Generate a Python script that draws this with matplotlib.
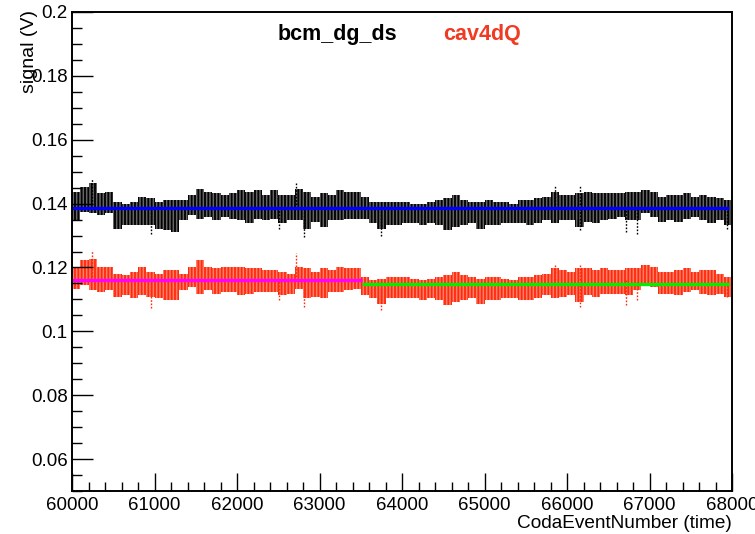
import numpy as np
import matplotlib
matplotlib.use("Agg")
import matplotlib.pyplot as plt
from matplotlib.ticker import MultipleLocator, FixedLocator, FuncFormatter

# Event bins (100 events wide) spanning the run segment
bin_start = 60000
bin_width = 100
n_bins = 80

# bcm_dg_ds: upper / lower extent of the readings in each bin (V)
bcm_hi = [0.1437, 0.1453, 0.1463, 0.1432, 0.1437, 0.1406, 0.1400, 0.1406, 0.1421, 0.1416,
          0.1406, 0.1411, 0.1411, 0.1411, 0.1426, 0.1447, 0.1437, 0.1432, 0.1426, 0.1432,
          0.1442, 0.1437, 0.1442, 0.1426, 0.1442, 0.1426, 0.1426, 0.1447, 0.1437, 0.1421,
          0.1432, 0.1426, 0.1442, 0.1437, 0.1437, 0.1421, 0.1406, 0.1406, 0.1406, 0.1406,
          0.1406, 0.1400, 0.1400, 0.1406, 0.1411, 0.1416, 0.1426, 0.1411, 0.1406, 0.1406,
          0.1411, 0.1406, 0.1406, 0.1400, 0.1411, 0.1411, 0.1416, 0.1421, 0.1437, 0.1426,
          0.1426, 0.1432, 0.1437, 0.1432, 0.1432, 0.1432, 0.1432, 0.1437, 0.1437, 0.1442,
          0.1437, 0.1421, 0.1426, 0.1426, 0.1432, 0.1421, 0.1426, 0.1421, 0.1416, 0.1411]
bcm_lo = [0.1348, 0.1374, 0.1369, 0.1364, 0.1369, 0.1322, 0.1332, 0.1332, 0.1332, 0.1332,
          0.1322, 0.1317, 0.1312, 0.1348, 0.1364, 0.1353, 0.1359, 0.1348, 0.1359, 0.1353,
          0.1348, 0.1338, 0.1353, 0.1348, 0.1353, 0.1338, 0.1348, 0.1348, 0.1322, 0.1343,
          0.1327, 0.1348, 0.1348, 0.1353, 0.1353, 0.1353, 0.1338, 0.1322, 0.1332, 0.1332,
          0.1338, 0.1338, 0.1332, 0.1338, 0.1332, 0.1317, 0.1327, 0.1332, 0.1338, 0.1322,
          0.1332, 0.1332, 0.1338, 0.1338, 0.1338, 0.1332, 0.1338, 0.1348, 0.1338, 0.1348,
          0.1348, 0.1327, 0.1343, 0.1338, 0.1348, 0.1353, 0.1359, 0.1348, 0.1348, 0.1369,
          0.1359, 0.1343, 0.1348, 0.1343, 0.1353, 0.1359, 0.1348, 0.1338, 0.1348, 0.1332]

# cav4dQ: upper / lower extent of the readings in each bin (V)
cav_hi = [0.1197, 0.1223, 0.1228, 0.1202, 0.1202, 0.1181, 0.1176, 0.1186, 0.1202, 0.1186,
          0.1181, 0.1192, 0.1192, 0.1181, 0.1202, 0.1223, 0.1202, 0.1197, 0.1202, 0.1202,
          0.1202, 0.1197, 0.1197, 0.1192, 0.1192, 0.1186, 0.1181, 0.1202, 0.1197, 0.1186,
          0.1197, 0.1192, 0.1202, 0.1197, 0.1197, 0.1171, 0.1160, 0.1165, 0.1171, 0.1171,
          0.1171, 0.1165, 0.1160, 0.1165, 0.1171, 0.1176, 0.1186, 0.1176, 0.1171, 0.1165,
          0.1171, 0.1171, 0.1165, 0.1160, 0.1171, 0.1171, 0.1176, 0.1181, 0.1197, 0.1192,
          0.1186, 0.1197, 0.1197, 0.1192, 0.1197, 0.1192, 0.1192, 0.1197, 0.1197, 0.1207,
          0.1202, 0.1186, 0.1186, 0.1192, 0.1197, 0.1186, 0.1192, 0.1192, 0.1181, 0.1171]
cav_lo = [0.1134, 0.1145, 0.1129, 0.1124, 0.1129, 0.1108, 0.1113, 0.1103, 0.1113, 0.1108,
          0.1103, 0.1098, 0.1098, 0.1129, 0.1139, 0.1118, 0.1129, 0.1118, 0.1124, 0.1124,
          0.1113, 0.1118, 0.1124, 0.1124, 0.1124, 0.1113, 0.1118, 0.1134, 0.1103, 0.1108,
          0.1103, 0.1124, 0.1124, 0.1129, 0.1134, 0.1113, 0.1103, 0.1087, 0.1103, 0.1103,
          0.1103, 0.1103, 0.1098, 0.1103, 0.1098, 0.1082, 0.1092, 0.1098, 0.1103, 0.1087,
          0.1098, 0.1098, 0.1103, 0.1103, 0.1098, 0.1098, 0.1103, 0.1113, 0.1103, 0.1108,
          0.1113, 0.1092, 0.1113, 0.1108, 0.1118, 0.1118, 0.1118, 0.1113, 0.1129, 0.1145,
          0.1139, 0.1118, 0.1118, 0.1113, 0.1124, 0.1129, 0.1118, 0.1113, 0.1118, 0.1108]

# Isolated excursions: event number, value (V)
bcm_spike_evt = [60240, 60960, 62505, 62715, 62812, 63745, 65850, 66157, 66157, 66714, 66850, 67940]
bcm_spike_val = [0.1480, 0.1306, 0.1322, 0.1465, 0.1296, 0.1298, 0.1458, 0.1458, 0.1317, 0.1312, 0.1306, 0.1322]
cav_spike_evt = [60240, 60960, 62505, 62715, 62812, 63745, 65850, 66157, 66157, 66714, 66850, 67940]
cav_spike_val = [0.1252, 0.1072, 0.1098, 0.1244, 0.1077, 0.1066, 0.1212, 0.1212, 0.1077, 0.1082, 0.1098, 0.1108]

# Fitted constants
bcm_fit = 0.1387
cav_fit_a = 0.1161   # first part of the run
cav_fit_b = 0.1148   # second part of the run
cav_split = 63520
evt_min, evt_max = 60000, 68000

BLACK = "#000000"
RED = "#ff2a0a"

plt.rcParams["hatch.linewidth"] = 1.3

fig = plt.figure(figsize=(7.55, 5.34), dpi=100)
ax = fig.add_axes([72 / 755, 43 / 534, 660 / 755, 479 / 534])

centers = bin_start + bin_width * (np.arange(n_bins) + 0.5)

def draw_cloud(hi, lo, sp_x, sp_v, fit_ref, color):
    hi = np.asarray(hi)
    lo = np.asarray(lo)
    # light body of the band
    ax.bar(centers, hi - lo, bottom=lo, width=bin_width, color=color,
           alpha=0.6, linewidth=0)
    # dense vertical texture on top of it
    plt.rcParams["hatch.color"] = color
    ax.bar(centers, hi - lo, bottom=lo, width=bin_width, facecolor="none",
           edgecolor=color, hatch="|||||", linewidth=0)
    for x, v in zip(sp_x, sp_v):
        lo_v, hi_v = (v, fit_ref) if v < fit_ref else (fit_ref, v)
        ax.vlines(x, lo_v, hi_v, color=color, linewidth=1.0, linestyles=(0, (1.2, 1.2)))

draw_cloud(bcm_hi, bcm_lo, bcm_spike_evt, bcm_spike_val, bcm_fit, BLACK)
draw_cloud(cav_hi, cav_lo, cav_spike_evt, cav_spike_val, cav_fit_a, RED)

ax.plot([evt_min, evt_max - 40], [bcm_fit, bcm_fit], color="#0000ff", linewidth=2.4, solid_capstyle="butt")
ax.plot([evt_min, cav_split], [cav_fit_a, cav_fit_a], color="#ff00ff", linewidth=2.4, solid_capstyle="butt")
ax.plot([cav_split, evt_max - 40], [cav_fit_b, cav_fit_b], color="#00ee00", linewidth=2.4, solid_capstyle="butt")

ax.set_xlim(evt_min, evt_max)
ax.set_ylim(0.05, 0.2)

ax.xaxis.set_major_locator(MultipleLocator(1000))
ax.xaxis.set_minor_locator(MultipleLocator(200))
ax.xaxis.set_major_formatter(FuncFormatter(lambda v, p: "%d" % round(v)))
ax.yaxis.set_major_locator(FixedLocator([0.06, 0.08, 0.10, 0.12, 0.14, 0.16, 0.18, 0.20]))
ax.yaxis.set_minor_locator(MultipleLocator(0.005))
ax.yaxis.set_major_formatter(FuncFormatter(lambda v, p: ("%.2f" % v).rstrip("0")))

font = "Liberation Sans"
ax.tick_params(axis="both", which="both", direction="in", top=False, right=False,
               width=1.0, color="black")
ax.tick_params(axis="y", which="major", length=15, labelsize=13.5, pad=3)
ax.tick_params(axis="y", which="minor", length=7.5)
ax.tick_params(axis="x", which="major", length=13, labelsize=13.5, pad=4)
ax.tick_params(axis="x", which="minor", length=6.5)
for lab in ax.get_xticklabels() + ax.get_yticklabels():
    lab.set_fontfamily(font)

for sp in ax.spines.values():
    sp.set_linewidth(1.4)

ax.text(0.312, 0.952, "bcm_dg_ds", transform=ax.transAxes, ha="left", va="center",
        fontsize=15.5, fontweight="bold", family=font, color="black")
ax.text(0.562, 0.952, "cav4dQ", transform=ax.transAxes, ha="left", va="center",
        fontsize=15.5, fontweight="bold", family=font, color="#f03a22")

fig.text(30 / 755, 1 - 10 / 534, "signal (V)", rotation=90, ha="center", va="top",
         fontsize=14, family=font)
fig.text(732 / 755, 1 - 523 / 534, "CodaEventNumber (time)", ha="right", va="center",
         fontsize=13.7, family=font)

fig.savefig("out.png", dpi=100)
